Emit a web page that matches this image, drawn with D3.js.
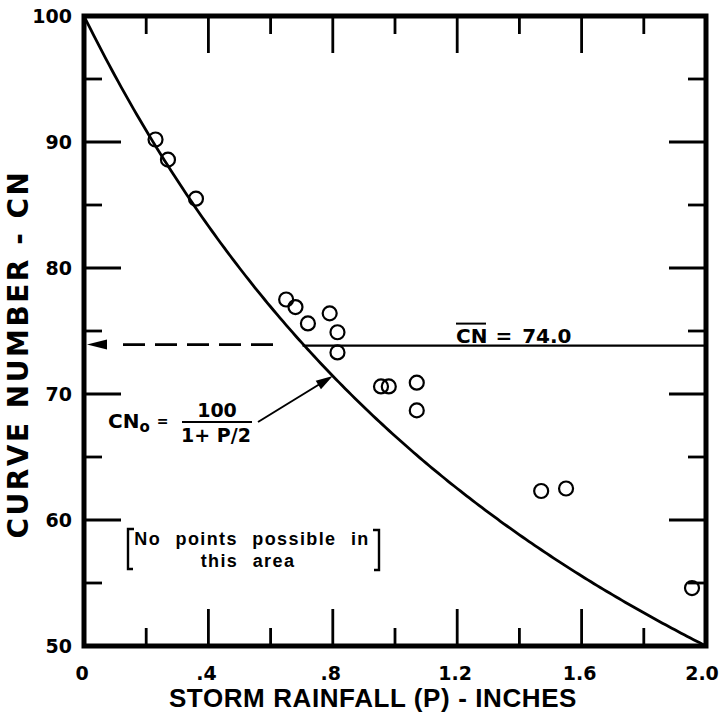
<!DOCTYPE html>
<html>
<head>
<meta charset="utf-8">
<script src="https://cdn.jsdelivr.net/npm/d3@7"></script>
<style>
  html, body { margin: 0; padding: 0; background: #fff; }
  svg { display: block; }
  text { font-family: "DejaVu Sans", "Liberation Sans", sans-serif; font-weight: bold; fill: #000; }
</style>
</head>
<body>
<svg id="chart" width="721" height="713"></svg>
<script>
// Observed storm events: rainfall P (inches) and back-computed curve number
const rainfall = [0.23, 0.27, 0.36, 0.65, 0.68, 0.72, 0.79, 0.815, 0.815, 0.955, 0.98, 1.07, 1.07, 1.47, 1.55, 1.955];
const curveNumber = [90.2, 88.6, 85.5, 77.5, 76.9, 75.6, 76.4, 74.9, 73.3, 70.6, 70.6, 70.9, 68.7, 62.3, 62.5, 54.6];

// Axis ticks
const xMajorTicks = [0, 0.4, 0.8, 1.2, 1.6, 2.0];
const xMinorTicks = [0.2, 0.6, 1.0, 1.4, 1.8];
const xTickLabels = ["0", ".4", ".8", "1.2", "1.6", "2.0"];
const yMajorTicks = [50, 60, 70, 80, 90, 100];
const yMinorTicks = [55, 65, 75, 85, 95];
const yTickLabels = ["50", "60", "70", "80", "90", "100"];

// Mean curve number
const meanCN = 74.0;
const meanLabel = "74.0";

const svg = d3.select("#chart");
const x = d3.scaleLinear().domain([0, 2.0]).range([84, 706]);
const y = d3.scaleLinear().domain([50, 100]).range([646, 16]);

const [x0, x1] = x.range();
const [y0, y1] = y.range();
const sansNarrow = "'Liberation Sans', Arial, sans-serif";

// Theoretical envelope CN0 = 100 / (1 + P/2)
const envelope = d3.range(0, 2.0001, 0.01).map(p => [p, 100 / (1 + p / 2)]);
svg.append("path")
  .datum(envelope)
  .attr("fill", "none")
  .attr("stroke", "#000")
  .attr("stroke-width", 2.8)
  .attr("d", d3.line().x(d => x(d[0])).y(d => y(d[1])));

// Mean CN line: solid from envelope crossing to the right frame, dashed to the left axis
const pCross = 2 * (100 / meanCN - 1);
const yMean = y(meanCN) + 2;
svg.append("line")
  .attr("x1", x(pCross)).attr("x2", x1)
  .attr("y1", yMean).attr("y2", yMean)
  .attr("stroke", "#000").attr("stroke-width", 2.2);
svg.append("line")
  .attr("x1", x0 + 39).attr("x2", x(pCross) - 26)
  .attr("y1", yMean - 1).attr("y2", yMean - 1)
  .attr("stroke", "#000").attr("stroke-width", 2.8)
  .attr("stroke-dasharray", "22 10");
// arrowhead at the axis
svg.append("path")
  .attr("d", `M${x0 + 3},${yMean - 1} l20,-5 l0,10 z`)
  .attr("fill", "#000");

// Observed points
svg.append("g").selectAll("circle")
  .data(rainfall.map((p, i) => [p, curveNumber[i]]))
  .join("circle")
  .attr("cx", d => x(d[0]))
  .attr("cy", d => y(d[1]))
  .attr("r", 7)
  .attr("fill", "none")
  .attr("stroke", "#000")
  .attr("stroke-width", 2.2);

// Ticks (inward) on all four sides
const ticks = svg.append("g").attr("stroke", "#000").attr("stroke-width", 2.8);
const majLen = 37, minLen = 18;
xMajorTicks.slice(1, -1).forEach(v => {
  ticks.append("line").attr("x1", x(v)).attr("x2", x(v)).attr("y1", y0).attr("y2", y0 - majLen);
  ticks.append("line").attr("x1", x(v)).attr("x2", x(v)).attr("y1", y1).attr("y2", y1 + majLen);
});
xMinorTicks.forEach(v => {
  ticks.append("line").attr("x1", x(v)).attr("x2", x(v)).attr("y1", y0).attr("y2", y0 - minLen);
  ticks.append("line").attr("x1", x(v)).attr("x2", x(v)).attr("y1", y1).attr("y2", y1 + minLen);
});
yMajorTicks.slice(1, -1).forEach(v => {
  ticks.append("line").attr("x1", x0).attr("x2", x0 + majLen).attr("y1", y(v)).attr("y2", y(v));
  ticks.append("line").attr("x1", x1).attr("x2", x1 - majLen).attr("y1", y(v)).attr("y2", y(v));
});
yMinorTicks.forEach(v => {
  ticks.append("line").attr("x1", x0).attr("x2", x0 + minLen).attr("y1", y(v)).attr("y2", y(v));
  ticks.append("line").attr("x1", x1).attr("x2", x1 - minLen).attr("y1", y(v)).attr("y2", y(v));
});

// Frame
svg.append("rect")
  .attr("x", x0).attr("y", y1)
  .attr("width", x1 - x0).attr("height", y0 - y1)
  .attr("fill", "none").attr("stroke", "#000").attr("stroke-width", 5);

// Tick labels
svg.append("g").selectAll("text")
  .data(xMajorTicks)
  .join("text")
  .attr("x", d => Math.min(x(d) - 2, 702))
  .attr("y", y0 + 34)
  .attr("text-anchor", "middle")
  .attr("font-size", 19)
  .text((d, i) => xTickLabels[i]);
svg.append("g").selectAll("text")
  .data(yMajorTicks)
  .join("text")
  .attr("x", 72)
  .attr("y", d => y(d) + 7)
  .attr("text-anchor", "end")
  .attr("font-size", 19)
  .text((d, i) => yTickLabels[i]);

// Axis titles
svg.append("text")
  .attr("x", 373)
  .attr("y", 707)
  .attr("text-anchor", "middle")
  .style("font-family", sansNarrow)
  .attr("font-size", 26)
  .attr("letter-spacing", 0.6)
  .text("STORM RAINFALL (P) - INCHES");
svg.append("text")
  .attr("transform", "translate(28,354) rotate(-90)")
  .attr("text-anchor", "middle")
  .attr("font-size", 28)
  .attr("letter-spacing", 2.5)
  .text("CURVE NUMBER - CN");

// Mean label with overbar
const meanText = svg.append("text")
  .attr("x", 456).attr("y", yMean - 3)
  .attr("font-size", 20);
meanText.append("tspan").text("CN");
meanText.append("tspan").attr("dx", 8).text("=");
meanText.append("tspan").attr("dx", 10).text(meanLabel);
svg.append("line")
  .attr("x1", 456).attr("x2", 486)
  .attr("y1", yMean - 22).attr("y2", yMean - 22)
  .attr("stroke", "#000").attr("stroke-width", 2);

// Envelope equation label
const eq = svg.append("g");
const eqText = eq.append("text").attr("x", 108).attr("y", 428).attr("font-size", 20);
eqText.append("tspan").text("CN");
eqText.append("tspan").attr("font-size", 15).attr("dy", 4).text("o");
eqText.append("tspan").attr("font-size", 14).attr("dy", -6).attr("dx", 7).text("=");
eq.append("text").attr("x", 217).attr("y", 417).attr("text-anchor", "middle").attr("font-size", 19).text("100");
eq.append("text").attr("x", 216).attr("y", 442).attr("text-anchor", "middle").attr("font-size", 19).text("1+ P/2");
eq.append("line").attr("x1", 182).attr("x2", 252).attr("y1", 422).attr("y2", 422)
  .attr("stroke", "#000").attr("stroke-width", 2);
// Arrow pointing to the envelope
const tipP = 0.8;
const tipX = x(tipP), tipY = y(100 / (1 + tipP / 2));
const ang = Math.atan2(tipY - 422, tipX - 258);
svg.append("line")
  .attr("x1", 258).attr("y1", 422)
  .attr("x2", tipX - 10 * Math.cos(ang)).attr("y2", tipY - 10 * Math.sin(ang))
  .attr("stroke", "#000").attr("stroke-width", 2);
svg.append("path")
  .attr("d", "M0,0 L-17,-5 L-17,5 Z")
  .attr("transform", `translate(${tipX},${tipY}) rotate(${ang * 180 / Math.PI})`)
  .attr("fill", "#000");

// Bracketed note
const note = svg.append("g");
note.append("text").attr("x", 252).attr("y", 545).attr("text-anchor", "middle")
  .style("font-family", sansNarrow)
  .attr("font-size", 18).attr("letter-spacing", 1.4).attr("word-spacing", 8)
  .text("No points possible in");
note.append("text").attr("x", 248).attr("y", 567).attr("text-anchor", "middle")
  .style("font-family", sansNarrow)
  .attr("font-size", 18).attr("letter-spacing", 1.4).attr("word-spacing", 8)
  .text("this area");
note.append("path").attr("d", "M134,529 L128,529 L128,569 L133,569")
  .attr("fill", "none").attr("stroke", "#000").attr("stroke-width", 2.4);
note.append("path").attr("d", "M373,530 L379,530 L379,570 L374,570")
  .attr("fill", "none").attr("stroke", "#000").attr("stroke-width", 2.4);
</script>
</body>
</html>
